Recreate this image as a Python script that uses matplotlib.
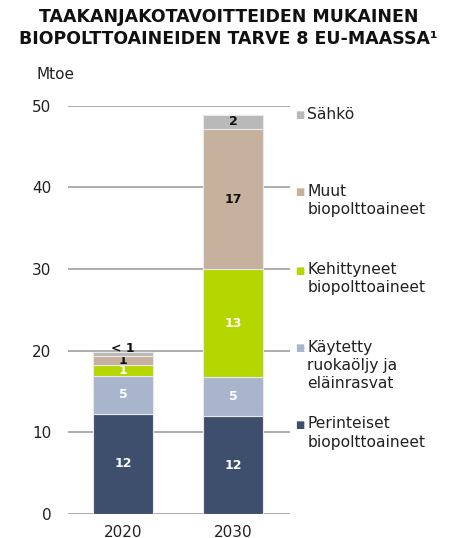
import numpy as np
import matplotlib.pyplot as plt

years = ["2020", "2030"]
series = ["Perinteiset\nbiopolttoaineet",
          "Käytetty\nruokaöljy ja\neläinrasvat",
          "Kehittyneet\nbiopolttoaineet",
          "Muut\nbiopolttoaineet",
          "Sähkö"]
values = np.array([
    [12.3, 12.0],
    [4.6, 4.75],
    [1.3, 13.2],
    [1.2, 17.15],
    [0.4, 1.8],
])
labels = [
    ["12", "12"],
    ["5", "5"],
    ["1", "13"],
    ["1", "17"],
    ["< 1", "2"],
]
colors = ["#3e4f6e", "#a9b5cd", "#b6d600", "#c5b19d", "#b9b9b9"]
label_colors = ["white", "white", "white", "#111111", "#111111"]
legend_y = [10.9, 20.3, 29.8, 39.4, 48.8]

plt.rcParams['font.family'] = ['DejaVu Sans']

fig = plt.figure(figsize=(4.57, 5.38), dpi=100)
ax = fig.add_axes([0.149, 0.0446, 0.486, 0.759])

x = np.arange(len(years))
bottom = np.zeros(len(years))
for i in range(len(series)):
    ax.bar(x, values[i], 0.545, bottom=bottom, color=colors[i],
           edgecolor="#e8e8e8", linewidth=0.8, zorder=3 + i * 0.1)
    for j in range(len(years)):
        if i == 4 and j == 0:
            ax.text(x[j], bottom[j] + values[i][j] + 0.5, labels[i][j],
                    ha="center", va="center", fontsize=9, fontweight="bold",
                    color="#111111", zorder=5)
        else:
            ax.text(x[j], bottom[j] + values[i][j] / 2, labels[i][j],
                    ha="center", va="center", fontsize=9, fontweight="bold",
                    color=label_colors[i], zorder=3.05 + i * 0.1)
    bottom += values[i]

for i in range(len(series)):
    ax.text(1.56, legend_y[i], "\u25a0", color=colors[i], fontsize=7,
            ha="left", va="center", clip_on=False)
    ax.text(1.675, legend_y[i] + 1.05, series[i], color="#222222", fontsize=11.2,
            ha="left", va="top", clip_on=False, linespacing=1.27)

ax.set_ylim(0, 50)
ax.set_xlim(-0.5, 1.518)
ax.set_yticks([0, 10, 20, 30, 40, 50])
ax.yaxis.grid(True, color="#a0a0a0", linewidth=1.2, zorder=0)
ax.tick_params(axis="y", length=0, labelsize=11, pad=12, labelcolor="#222222")
ax.set_xticks(x)
ax.set_xticklabels(years)
ax.tick_params(axis="x", length=0, labelsize=11, pad=8, labelcolor="#222222")
for s in ax.spines.values():
    s.set_visible(False)

ax.text(-0.144, 1.058, "Mtoe", transform=ax.transAxes, fontsize=11,
        color="#222222", ha="left", va="bottom")

fig.text(0.5, 0.986, "TAAKANJAKOTAVOITTEIDEN MUKAINEN\nBIOPOLTTOAINEIDEN TARVE 8 EU-MAASSA\u00b9",
         ha="center", va="top", fontsize=12.5, fontweight="bold",
         color="#111111", linespacing=1.3)

fig.savefig("out.png", dpi=100)
